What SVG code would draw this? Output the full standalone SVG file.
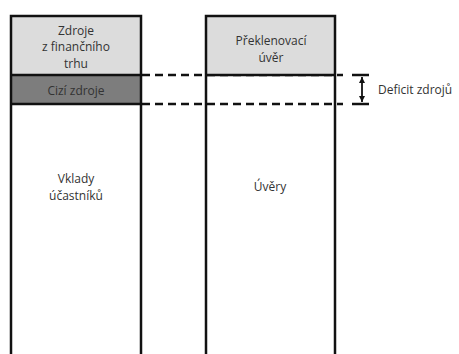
<svg xmlns="http://www.w3.org/2000/svg" width="459" height="354" viewBox="0 0 459 354">
<style>
.col{fill:none;stroke:#111;stroke-width:2.5}
.light{fill:#dcdcdc}
.dark{fill:#7d7d7d}
.edge{stroke:#111;stroke-width:2.5}
.dash{stroke:#111;stroke-width:2.5;stroke-dasharray:8 5;fill:none}
text{font-family:"Open Sans","Liberation Sans",sans-serif;font-size:12px;fill:#333;text-anchor:middle}
</style>
<defs>
<marker id="ah" viewBox="0 0 10 10" refX="10" refY="5" markerWidth="6" markerHeight="6" orient="auto-start-reverse" markerUnits="userSpaceOnUse">
<path d="M0,0 L10,5 L0,10 z" fill="#111"/>
</marker>
</defs>
<g id="connectors">
<line class="dash" x1="142" y1="75" x2="343" y2="75"/>
<line class="dash" x1="142" y1="104" x2="343" y2="104"/>
<line class="edge" x1="352" y1="75" x2="369" y2="75"/>
<line class="edge" x1="352" y1="104" x2="369" y2="104"/>
<line stroke="#111" stroke-width="1.8" x1="362" y1="77" x2="362" y2="102" marker-start="url(#ah)" marker-end="url(#ah)"/>
</g>
<g id="left-column">
<rect class="light" x="11" y="16" width="130" height="59"/>
<rect class="dark" x="11" y="75" width="130" height="29"/>
<line class="edge" x1="11" y1="75" x2="141" y2="75"/>
<line class="edge" x1="11" y1="104" x2="141" y2="104"/>
<path class="col" d="M11,356 V16 H141 V356"/>
</g>
<g id="right-column">
<rect class="light" x="206" y="16" width="129" height="59"/>
<line class="edge" x1="206" y1="75" x2="335" y2="75"/>
<path class="col" d="M206,356 V16 H335 V356"/>
</g>
<g id="zdroje-trh"><text x="76" y="34.5">Zdroje</text><text x="76" y="51">z finančního</text><text x="76" y="67.5">trhu</text></g>
<g id="cizi-zdroje"><text x="76" y="95">Cizí zdroje</text></g>
<g id="vklady"><text x="76" y="183">Vklady</text><text x="76" y="200">účastníků</text></g>
<g id="preklenovaci"><text x="271" y="45">Překlenovací</text><text x="271" y="62">úvěr</text></g>
<g id="uvery"><text x="270" y="191">Úvěry</text></g>
<g id="deficit"><text x="378" y="94" style="text-anchor:start">Deficit zdrojů</text></g>
</svg>
